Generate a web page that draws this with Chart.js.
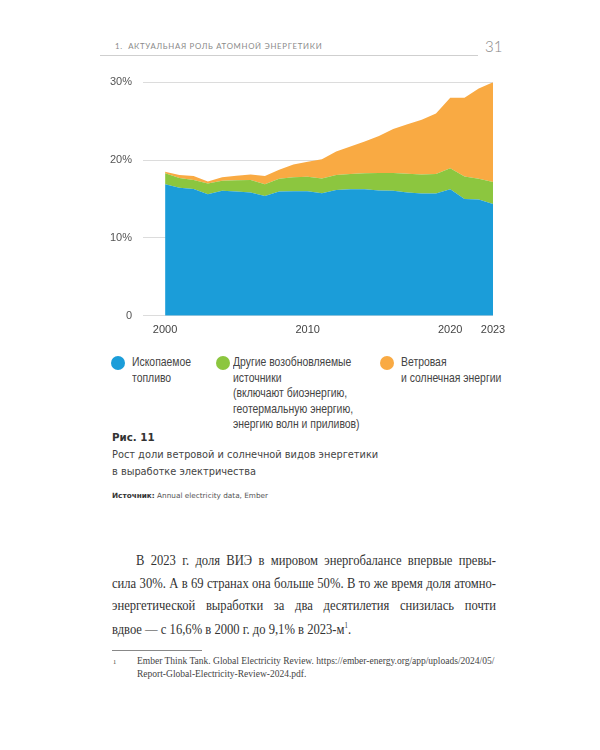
<!DOCTYPE html>
<html>
<head>
<meta charset="utf-8">
<script src="https://cdn.jsdelivr.net/npm/chart.js@4/dist/chart.umd.min.js"></script>
<style>
  html, body { margin: 0; padding: 0; background: #fff; }
  body { width: 600px; height: 750px; position: relative; overflow: hidden; }
  .abs { position: absolute; white-space: nowrap; }
  #hdr { left: 115px; top: 41px; font-family: "Lato", "DejaVu Sans", sans-serif; font-size: 7.8px; letter-spacing: 0.7px; color: #8a8a8a; }
  #pg { left: 485px; top: 37px; font-family: "Lato", sans-serif; font-weight: 300; font-size: 15px; color: #888; }
  #hline { left: 100px; top: 55px; width: 378px; height: 1px; background: #cfcfcf; }
  #chartBox { left: 100px; top: 60px; width: 420px; height: 285px; }
  .leg { font-family: "Liberation Sans", Arial, sans-serif; font-size: 13px; line-height: 15.5px; color: #444; transform: scaleX(0.8); transform-origin: 0 0; }
  .dot { position: absolute; width: 14px; height: 14px; border-radius: 50%; }
  .cap { font-family: "DejaVu Sans", sans-serif; color: #444; }
  .body { font-family: "Liberation Serif", "DejaVu Serif", serif; font-size: 14px; color: #333; transform: scaleX(0.9); transform-origin: 0 0; }
  .just { width: 426.7px; text-align: justify; text-align-last: justify; }
  .fn { font-family: "Liberation Serif", "DejaVu Serif", serif; font-size: 9.5px; color: #444; line-height: 13px; }
</style>
</head>
<body>
<div class="abs" id="hdr">1.&nbsp;&nbsp;АКТУАЛЬНАЯ РОЛЬ АТОМНОЙ ЭНЕРГЕТИКИ</div>
<div class="abs" id="pg">31</div>
<div class="abs" id="hline"></div>

<div class="abs" id="chartBox"><canvas id="c" width="420" height="285"></canvas></div>

<div class="dot" style="left:111px; top:356px; background:#1b9dd9;"></div>
<div class="abs leg" style="left:132px; top:354px;">Ископаемое<br>топливо</div>
<div class="dot" style="left:216px; top:356px; background:#8cc63f;"></div>
<div class="abs leg" style="left:233px; top:354px;">Другие возобновляемые<br>источники<br>(включают биоэнергию,<br>геотермальную энергию,<br>энергию волн и приливов)</div>
<div class="dot" style="left:380px; top:356px; background:#f9aa43;"></div>
<div class="abs leg" style="left:401px; top:354px;">Ветровая<br>и солнечная энергии</div>

<div class="abs cap" style="left:112px; top:431px; font-size:10.3px; font-weight:bold; color:#333;">Рис. 11</div>
<div class="abs cap" style="left:112px; top:449px; font-size:9.8px;">Рост доли ветровой и солнечной видов энергетики</div>
<div class="abs cap" style="left:112px; top:466px; font-size:9.8px;">в выработке электричества</div>
<div class="abs cap" style="left:112px; top:491px; font-size:7.3px; color:#555;"><b style="color:#333;">Источник:</b> Annual electricity data, Ember</div>

<div class="abs body just" style="left:136px; top:553px; width:400px;">В 2023 г. доля ВИЭ в мировом энергобалансе впервые превы-</div>
<div class="abs body just" style="left:112px; top:576px;">сила 30%. А в 69 странах она больше 50%. В то же время доля атомно-</div>
<div class="abs body just" style="left:112px; top:598px;">энергетической выработки за два десятилетия снизилась почти</div>
<div class="abs body" style="left:112px; top:621px;">вдвое — с 16,6% в 2000 г. до 9,1% в 2023-м<sup style="font-size:7.5px;">1</sup>.</div>

<div class="abs" style="left:112px; top:650px; width:90px; height:1px; background:#888;"></div>
<div class="abs fn" style="left:113px; top:655px; font-size:6.5px;">1</div>
<div class="abs fn" style="left:137px; top:655px;">Ember Think Tank. Global Electricity Review. https://ember-energy.org/app/uploads/2024/05/<br>Report-Global-Electricity-Review-2024.pdf.</div>

<script>
const years = [2000,2001,2002,2003,2004,2005,2006,2007,2008,2009,2010,2011,2012,2013,2014,2015,2016,2017,2018,2019,2020,2021,2022,2023];
const fossil = [16.9,16.45,16.3,15.6,16.05,15.95,15.85,15.4,15.95,16.0,16.0,15.75,16.15,16.25,16.25,16.1,16.05,15.85,15.7,15.7,16.25,15.0,14.95,14.35];
const otherRenew = [1.4,1.25,1.15,1.4,1.3,1.45,1.6,1.5,1.65,1.8,1.85,1.9,1.95,1.95,2.05,2.25,2.3,2.4,2.45,2.5,2.7,2.9,2.65,2.85];
const windSolar = [0.2,0.4,0.5,0.25,0.45,0.6,0.7,1.05,1.15,1.65,1.95,2.45,3.0,3.55,4.1,4.75,5.65,6.35,7.05,7.8,9.05,10.1,11.6,12.8];
const xTicks = [2000,2010,2020,2023];
const yTicks = [0,10,20,30];
const seriesLabels = ["Ископаемое топливо","Другие возобновляемые источники","Ветровая и солнечная энергии"];
const seriesColors = ["#1b9dd9","#8cc63f","#f9aa43"];

const toPts = arr => arr.map((v,i)=>({x:years[i], y:v}));
const mk = (i, arr, fill) => ({
  label: seriesLabels[i], data: toPts(arr), fill: fill,
  backgroundColor: seriesColors[i], borderWidth: 0, pointRadius: 0, tension: 0
});
const tickFont = { family: '"Liberation Sans", Arial, sans-serif', size: 11 };

new Chart(document.getElementById('c'), {
  type: 'line',
  data: { datasets: [ mk(0,fossil,'origin'), mk(1,otherRenew,'-1'), mk(2,windSolar,'-1') ] },
  options: {
    responsive: false, animation: false,
    layout: { padding: { top: 22.3, right: 27, left: 0, bottom: 0 } },
    plugins: { legend: { display: false }, tooltip: { enabled: false }, filler: { propagate: false } },
    scales: {
      x: {
        type: 'linear', min: 1998.45, max: 2023,
        afterBuildTicks: s => { s.ticks = xTicks.map(v=>({value:v})); },
        afterFit: s => { s.height = 29.3; },
        grid: { display: false, drawTicks: false }, border: { display: false },
        ticks: { padding: 8, color: '#444', maxRotation: 0, autoSkip: false, font: tickFont,
          callback: v => String(v) }
      },
      y: {
        stacked: true, min: 0, max: 30,
        afterBuildTicks: s => { s.ticks = yTicks.map(v=>({value:v})); },
        afterFit: s => { s.width = 43; },
        grid: { color: '#dcdcdc', lineWidth: 1, drawTicks: false }, border: { display: false },
        ticks: { padding: 11, color: '#555', font: tickFont,
          callback: v => v === 0 ? '0' : v + '%' }
      }
    }
  }
});
</script>
</body>
</html>
